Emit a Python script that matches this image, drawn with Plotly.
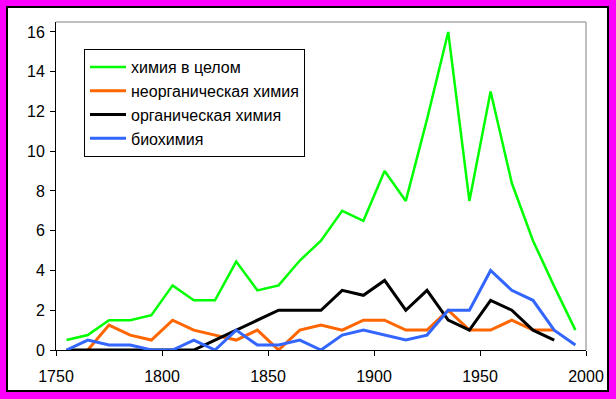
import plotly.graph_objects as go

years = [1755, 1765, 1775, 1785, 1795, 1805, 1815, 1825, 1835, 1845, 1855, 1865, 1875,
         1885, 1895, 1905, 1915, 1925, 1935, 1945, 1955, 1965, 1975, 1985, 1995]

chem_total = [0.5, 0.75, 1.5, 1.5, 1.75, 3.25, 2.5, 2.5, 4.45, 3.0, 3.25, 4.5, 5.5,
              7.0, 6.5, 9.0, 7.5, 11.6, 16.0, 7.5, 13.0, 8.4, 5.5, 3.2, 1.0]
chem_inorg = [None, 0.0, 1.25, 0.75, 0.5, 1.5, 1.0, 0.75, 0.5, 1.0, 0.0, 1.0, 1.25,
              1.0, 1.5, 1.5, 1.0, 1.0, 2.0, 1.0, 1.0, 1.5, 1.0, 1.0, None]
chem_org = [0.0, 0.0, 0.0, 0.0, 0.0, 0.0, 0.0, 0.5, 1.0, 1.5, 2.0, 2.0, 2.0,
            3.0, 2.75, 3.5, 2.0, 3.0, 1.5, 1.0, 2.5, 2.0, 1.0, 0.5, None]
biochem = [0.0, 0.5, 0.25, 0.25, 0.0, 0.0, 0.5, 0.0, 1.0, 0.25, 0.25, 0.5, 0.0,
           0.75, 1.0, 0.75, 0.5, 0.75, 2.0, 2.0, 4.0, 3.0, 2.5, 1.0, 0.25]

names = ["химия в целом", "неорганическая химия", "органическая химия", "биохимия"]
series = [chem_total, chem_inorg, chem_org, biochem]
colors = ["#00FF00", "#FF6600", "#000000", "#3366FF"]
widths = [2.5, 3, 3, 3]

x_ticks = [1750, 1800, 1850, 1900, 1950, 2000]
y_ticks = [0, 2, 4, 6, 8, 10, 12, 14, 16]

fig = go.Figure()
for i, (nm, ys, c, w) in enumerate(zip(names, series, colors, widths)):
    fig.add_trace(go.Scatter(x=years, y=ys, mode="lines", name=nm,
                             legendgroup=f"g{i}",
                             line=dict(color=c, width=w), connectgaps=False))

W, H = 616, 399
L, R, T, B = 56, 30, 22, 49
pw, ph = W - L - R, H - T - B

def px(xp):
    return (xp - L) / pw

def py(yp):
    return 1 - (yp - T) / ph

font = dict(family="Liberation Sans, Arial, sans-serif", size=16, color="#000000")

fig.update_layout(
    width=W, height=H,
    margin=dict(l=L, r=R, t=T, b=B, pad=0),
    paper_bgcolor="#FF00FF",
    plot_bgcolor="#FFFFFF",
    font=font,
    showlegend=True,
    legend=dict(x=px(84), y=py(49), xanchor="left", yanchor="top",
                bgcolor="#FFFFFF", bordercolor="#000000", borderwidth=1,
                font=font, tracegroupgap=0, itemwidth=36),
    xaxis=dict(range=[1750, 2000], tickvals=x_ticks, ticks="outside", ticklen=5,
               tickcolor="#000000", showline=True, linecolor="#000000", linewidth=1,
               showgrid=False, zeroline=False, tickfont=font, ticklabelstandoff=7),
    yaxis=dict(range=[0, 16.5], tickvals=y_ticks, ticks="outside", ticklen=5,
               tickcolor="#000000", showline=True, linecolor="#000000", linewidth=1,
               showgrid=False, zeroline=False, tickfont=font, ticklabelstandoff=2),
    shapes=[
        dict(type="rect", xref="paper", yref="paper", layer="below",
             x0=px(7), x1=px(608), y0=py(391), y1=py(7),
             fillcolor="#FFFFFF", line=dict(color="#000000", width=2)),
        dict(type="line", xref="paper", yref="paper", x0=0, x1=1, y0=1, y1=1,
             line=dict(color="#808080", width=1)),
        dict(type="line", xref="paper", yref="paper", x0=1, x1=1, y0=0, y1=1,
             line=dict(color="#808080", width=1)),
    ],
)

fig.write_html("out.html", config={"displayModeBar": False},
               post_script="document.body.style.margin='0';document.body.style.padding='0';")
